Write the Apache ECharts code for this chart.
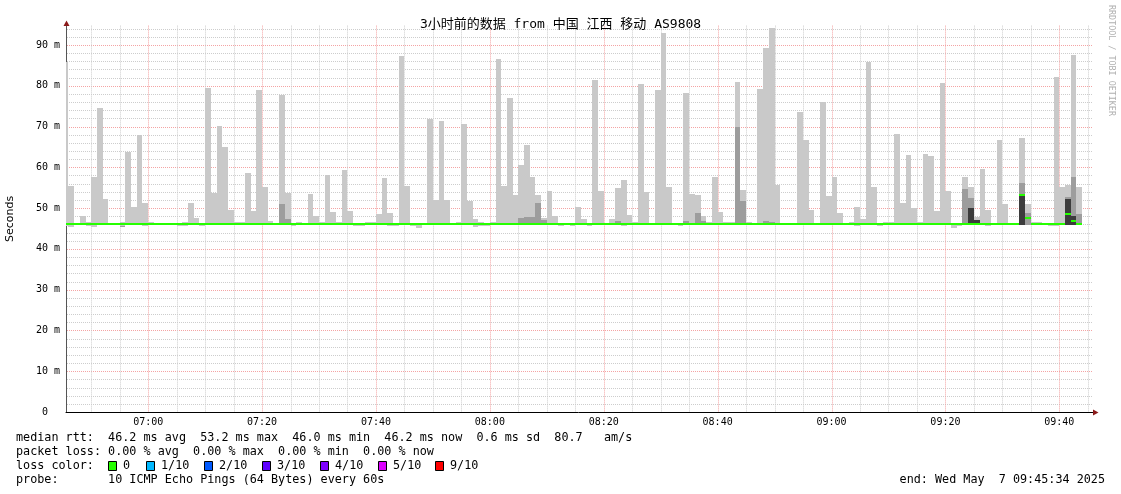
<!DOCTYPE html>
<html><head><meta charset="utf-8">
<script src="https://cdn.jsdelivr.net/npm/echarts@6/dist/echarts.min.js"></script>
<style>html,body{margin:0;padding:0;background:#fff}#c{width:1121px;height:494px}</style>
</head><body><div id="c"></div>
<script>
// ---- time scale (minutes of day) ----
const viewStart = 405 + 34/60;   // 06:45:34
const viewEnd   = 585 + 34/60;   // 09:45:34
const stepStart = Array.from({length: 181}, (_, i) => 405 + i); // each step = 60 s, 06:45 .. 09:45
const xMajorTicks = [420, 440, 460, 480, 500, 520, 540, 560, 580];
const xMinorTicks = [410,415,425,430,435,445,450,455,465,470,475,485,490,495,505,510,515,525,530,535,545,550,555,565,570,575,585];
const yMajorTicks = [10, 20, 30, 40, 50, 60, 70, 80, 90];
const yMinorTicks = [2,4,6,8,12,14,16,18,22,24,26,28,32,34,36,38,42,44,46,48,52,54,56,58,62,64,66,68,72,74,76,78,82,84,86,88,92,94];

// ---- smoke (ms): max ping, min ping, inner shades ----
const smokeMax = [
 85.9,55.3,46.3,48.1,46.5,57.7,74.5,52.2,46.3,46.3,
 46.6,63.8,50.3,67.9,51.3,46.5,46.3,46.3,46.3,46.3,
 46.3,46.5,51.3,47.6,46.3,79.4,53.8,70.1,65.0,49.5,
 46.5,46.5,58.6,49.3,79.0,55.2,46.8,46.3,77.7,53.8,
 46.3,46.5,46.3,53.5,48.1,46.5,58.1,49.0,46.5,59.3,
 49.3,46.3,46.3,46.5,46.5,48.6,57.4,48.8,46.3,87.3,
 55.4,46.3,46.3,46.3,71.8,52.0,71.4,52.0,46.3,46.5,
 70.6,51.7,47.4,46.5,46.3,46.5,86.6,55.4,77.0,53.2,
 60.6,65.5,57.6,53.2,47.6,54.2,48.1,46.3,46.3,46.3,
 50.3,47.4,46.3,81.4,54.2,46.3,47.4,54.9,56.9,48.3,
 46.5,80.4,54.0,46.3,79.0,92.9,55.2,46.3,46.3,78.2,
 53.5,53.2,48.1,46.5,57.6,49.0,46.5,46.5,80.9,54.4,
 46.5,46.3,79.2,89.3,94.2,55.7,46.3,46.3,46.3,73.6,
 66.7,49.5,46.3,76.0,53.0,57.6,48.8,46.3,46.5,50.3,
 47.4,85.8,55.2,46.3,46.5,46.5,68.2,51.2,63.0,50.1,
 46.5,63.3,62.8,49.3,80.7,54.2,46.3,46.3,57.6,55.2,
 47.8,59.6,49.5,46.3,66.7,51.0,46.3,46.3,67.2,51.0,
 46.5,46.5,46.3,46.3,82.1,55.2,55.7,87.5,55.2,null,
 null];
const smokeMin = [
 45.6,45.4,45.9,45.9,45.6,45.3,45.9,45.9,45.9,45.9,
 45.3,45.9,45.9,45.9,45.6,45.9,45.9,45.9,45.9,45.9,
 45.6,45.6,45.9,45.9,45.6,45.9,45.9,45.9,45.9,45.9,
 45.9,45.9,45.9,45.9,45.9,45.9,45.9,45.9,45.9,45.9,
 45.6,45.9,45.9,45.9,45.9,45.9,45.9,45.9,45.9,45.9,
 45.9,45.6,45.6,45.9,45.9,45.9,45.9,45.6,45.6,45.9,
 45.9,45.6,45.2,45.9,45.9,45.9,45.9,45.9,45.9,45.9,
 45.9,45.9,45.3,45.7,45.6,45.9,45.9,45.9,45.9,45.9,
 45.9,45.9,45.9,45.9,45.9,45.9,45.9,45.7,45.9,45.6,
 45.9,45.9,45.7,45.9,45.9,45.9,45.9,45.9,45.6,45.9,
 45.9,45.9,45.9,45.9,45.9,45.9,45.9,45.9,45.6,45.9,
 45.9,45.9,45.9,45.9,45.9,45.9,45.9,45.9,45.9,45.9,
 45.9,45.9,45.9,45.9,45.9,45.9,45.9,45.9,45.9,45.9,
 45.9,45.9,45.9,45.9,45.9,45.9,45.9,45.9,45.9,45.6,
 45.9,45.9,45.9,45.7,45.9,45.9,45.9,45.9,45.9,45.9,
 45.9,45.9,45.9,45.9,45.9,45.9,45.2,45.7,45.9,45.9,
 45.9,45.9,45.7,45.9,45.9,45.9,45.9,45.9,45.9,45.9,
 45.9,45.9,45.9,45.7,45.7,45.9,45.9,45.9,45.9,null,
 null];
const midMax = [
 null,null,null,null,null,null,null,null,null,null,
 45.7,null,null,null,null,null,null,null,null,null,
 null,null,null,null,null,null,null,null,null,null,
 null,null,null,null,null,null,null,null,51.0,47.4,
 null,null,null,null,null,null,null,null,null,null,
 null,null,null,null,null,null,null,null,null,null,
 null,null,null,null,null,null,null,null,null,null,
 null,null,null,null,null,null,null,null,null,null,
 47.6,47.8,47.8,51.2,47.2,null,null,null,null,null,
 null,null,null,null,null,null,null,46.8,null,null,
 null,null,null,null,null,null,null,null,null,46.8,
 null,48.8,46.9,null,null,null,null,null,69.8,51.7,
 null,null,null,46.9,46.6,null,null,null,null,null,
 null,null,null,null,null,null,null,null,null,null,
 null,null,null,null,null,null,null,null,null,null,
 null,null,null,null,null,null,null,null,54.7,52.6,
 47.1,null,null,null,null,null,null,null,56.1,48.9,
 null,null,null,null,null,null,52.8,57.6,48.6,null,
 null];
const darkMax = [
 null,null,null,null,null,null,null,null,null,null,
 null,null,null,null,null,null,null,null,null,null,
 null,null,null,null,null,null,null,null,null,null,
 null,null,null,null,null,null,null,null,null,null,
 null,null,null,null,null,null,null,null,null,null,
 null,null,null,null,null,null,null,null,null,null,
 null,null,null,null,null,null,null,null,null,null,
 null,null,null,null,null,null,null,null,null,null,
 null,null,null,null,null,null,null,null,null,null,
 null,null,null,null,null,null,null,null,null,null,
 null,null,null,null,null,null,null,null,null,null,
 null,null,null,null,null,null,null,null,null,null,
 null,null,null,null,null,null,null,null,null,null,
 null,null,null,null,null,null,null,null,null,null,
 null,null,null,null,null,null,null,null,null,null,
 null,null,null,null,null,null,null,null,null,50.1,
 47.1,null,null,null,null,null,null,null,53.0,null,
 null,null,null,null,null,null,52.3,48.0,null,null,
 null];
// ---- median rtt (ms) ----
const median = stepStart.map((_, i) => smokeMax[i] === null ? null : 46.2);
median[168] = 53.3; median[169] = 47.6; median[176] = 48.5; median[177] = 46.8;

// ---- legend texts ----
const statsLines = [
  'median rtt:  46.2 ms avg  53.2 ms max  46.0 ms min  46.2 ms now  0.6 ms sd  80.7   am/s',
  'packet loss: 0.00 % avg  0.00 % max  0.00 % min  0.00 % now',
  'loss color:',
  'probe:       10 ICMP Echo Pings (64 Bytes) every 60s'
];
const lossLabels = ['0', '1/10', '2/10', '3/10', '4/10', '5/10', '9/10'];
const lossColors = ['#26ff00', '#00b8ff', '#0059ff', '#5e00ff', '#7e00ff', '#dd00ff', '#ff0000'];
const titleText = '3小时前的数据 from 中国 江西 移动 AS9808';
const endText = 'end: Wed May  7 09:45:34 2025';

const COL_LIGHT = '#c9c9c9', COL_MID = '#9d9d9d', COL_DARK = '#3c3c3c';
const MONO = '"DejaVu Sans Mono", monospace';

function hhmm(m) {
  const h = Math.floor(m / 60), mm = Math.round(m % 60);
  return String(h).padStart(2, '0') + ':' + String(mm).padStart(2, '0');
}
function snapRect(api, params, t, lo, hi, color) {
  const a = api.coord([t, hi]), b = api.coord([t + 1, lo]);
  const x0 = Math.round(a[0]), x1 = Math.round(b[0]);
  const y0 = Math.round(a[1]), y1 = Math.round(b[1]);
  const cs = params.coordSys;
  const shape = echarts.graphic.clipRectByRect(
    {x: x0, y: y0, width: x1 - x0, height: Math.max(1, y1 - y0)},
    {x: cs.x, y: cs.y, width: cs.width, height: cs.height});
  return shape ? {type: 'rect', shape, style: {fill: color}} : null;
}

const smokeData = [];
stepStart.forEach((t, i) => {
  if (smokeMax[i] === null) return;
  smokeData.push([t, smokeMin[i], smokeMax[i], midMax[i] === null ? NaN : midMax[i], darkMax[i] === null ? NaN : darkMax[i]]);
});
const medianData = [];
stepStart.forEach((t, i) => { if (median[i] !== null) medianData.push([t, median[i]]); });

const chart = echarts.init(document.getElementById('c'), null, {renderer: 'canvas'});

const FONT_L = '11.78px ' + MONO;
const legendGraphics = [];
const rowY = [438, 452, 466, 480];
statsLines.forEach((s, r) => legendGraphics.push({
  type: 'text', x: 16, y: rowY[r],
  style: {text: s, font: FONT_L, fill: '#000', verticalAlign: 'middle'}
}));
const boxX = [108, 146, 204, 262, 320, 378, 435];
lossLabels.forEach((lab, i) => {
  legendGraphics.push({type: 'rect', shape: {x: boxX[i] + 0.5, y: 461.5, width: 8, height: 9},
    style: {fill: lossColors[i], stroke: '#000', lineWidth: 1}});
  legendGraphics.push({type: 'text', x: boxX[i] + 15, y: 466,
    style: {text: lab, font: FONT_L, fill: '#000', verticalAlign: 'middle'}});
});
legendGraphics.push({type: 'text', x: 1105, y: 480,
  style: {text: endText, font: FONT_L, fill: '#000', align: 'right', verticalAlign: 'middle'}});
legendGraphics.push({type: 'text', x: 1111, y: 5, rotation: -Math.PI / 2,
  style: {text: 'RRDTOOL / TOBI OETIKER', font: '8.4px ' + MONO, fill: '#b0b0b0', verticalAlign: 'middle'}});
legendGraphics.push({type: 'text', x: 10, y: 219, rotation: Math.PI / 2,
  style: {text: 'Seconds', font: '11px "DejaVu Sans"', fill: '#000', align: 'center', verticalAlign: 'middle'}});
// axis arrows
legendGraphics.push({type: 'polygon', shape: {points: [[66.5, 20.5], [63.5, 26], [69.5, 26]]}, style: {fill: '#8b1a1a'}, z: 20});
legendGraphics.push({type: 'line', shape: {x1: 1091, y1: 412.5, x2: 1094, y2: 412.5}, style: {stroke: '#000', lineWidth: 1}, z: 20});
legendGraphics.push({type: 'polygon', shape: {points: [[1098.5, 412.5], [1093, 409.5], [1093, 415.5]]}, style: {fill: '#8b1a1a'}, z: 20});

const MINOR_C = '#cdcdcd', MAJOR_C = '#f4a4a4';

chart.setOption({
  animation: false,
  backgroundColor: '#fff',
  title: {
    text: titleText, left: 'center', top: 13,
    textStyle: {fontSize: 13, fontWeight: 'normal', color: '#000', fontFamily: '"DejaVu Sans Mono", "Noto Sans CJK SC"'}
  },
  grid: {left: 66, right: 30, top: 24.6, bottom: 82, containLabel: false},
  xAxis: {
    type: 'value', min: viewStart, max: viewEnd,
    axisLine: {show: true, lineStyle: {color: '#000', width: 1}},
    axisTick: {show: false},
    splitLine: {show: false},
    axisLabel: {customValues: xMajorTicks, formatter: v => hhmm(v), margin: 5,
      fontFamily: MONO, fontSize: 10, color: '#000'}
  },
  yAxis: {
    type: 'value', min: 0, max: 95, interval: 10,
    axisLine: {show: true, onZero: false, lineStyle: {color: '#555', width: 1}},
    axisTick: {show: false},
    splitLine: {show: false},
    axisLabel: {formatter: v => v === 0 ? '0  ' : (v <= 90 ? v + ' m' : ''), margin: 6,
      fontFamily: MONO, fontSize: 10, color: '#000'}
  },
  graphic: legendGraphics,
  series: [
    {
      type: 'custom', name: 'hgrid', z: 1, silent: true,
      data: yMinorTicks.map(v => [viewStart, v, 0]).concat(yMajorTicks.map(v => [viewStart, v, 1])),
      encode: {x: 0, y: 1},
      renderItem(params, api) {
        const cs = params.coordSys;
        const y = Math.round(api.coord([viewStart, api.value(1)])[1]) + 0.5;
        const major = api.value(2) === 1;
        return {type: 'line', shape: {x1: cs.x + 1, y1: y, x2: cs.x + cs.width + 2, y2: y},
          style: {stroke: major ? MAJOR_C : MINOR_C, lineWidth: 1, lineDash: [1, 1]}};
      }
    },
    {
      type: 'custom', name: 'vgrid', z: 1, silent: true,
      data: xMinorTicks.map(v => [v, 50, 0]).concat(xMajorTicks.map(v => [v, 50, 1])),
      encode: {x: 0, y: 1},
      renderItem(params, api) {
        const cs = params.coordSys;
        const x = Math.round(api.coord([api.value(0), 0])[0]) + 0.5;
        const major = api.value(2) === 1;
        return {type: 'line', shape: {x1: x, y1: cs.y + 1, x2: x, y2: cs.y + cs.height},
          style: {stroke: major ? MAJOR_C : MINOR_C, lineWidth: 1, lineDash: [1, 1]}};
      }
    },
    {
      type: 'custom', name: 'smoke', z: 2, data: smokeData, encode: {x: 0, y: [1, 2]},
      renderItem(params, api) {
        const t = api.value(0), lo = api.value(1), hi = api.value(2), mid = api.value(3), dark = api.value(4);
        const ch = [];
        const r1 = snapRect(api, params, t, lo, hi, COL_LIGHT); if (r1) ch.push(r1);
        if (isFinite(mid)) { const r2 = snapRect(api, params, t, lo, mid, COL_MID); if (r2) ch.push(r2); }
        if (isFinite(dark)) { const r3 = snapRect(api, params, t, lo, dark, COL_DARK); if (r3) ch.push(r3); }
        return {type: 'group', children: ch};
      }
    },
    {
      type: 'custom', name: 'median', z: 4, data: medianData, encode: {x: 0, y: 1},
      renderItem(params, api) {
        const t = api.value(0), m = api.value(1);
        const a = api.coord([t, m]), b = api.coord([t + 1, m]);
        const x0 = Math.round(a[0]), x1 = Math.round(b[0]), yc = Math.round(a[1]);
        const cs = params.coordSys;
        const shape = echarts.graphic.clipRectByRect({x: x0, y: yc - 1, width: x1 - x0, height: 2},
          {x: cs.x, y: cs.y, width: cs.width, height: cs.height});
        return shape ? {type: 'rect', shape, style: {fill: lossColors[0]}} : null;
      }
    }
  ]
});
</script></body></html>
